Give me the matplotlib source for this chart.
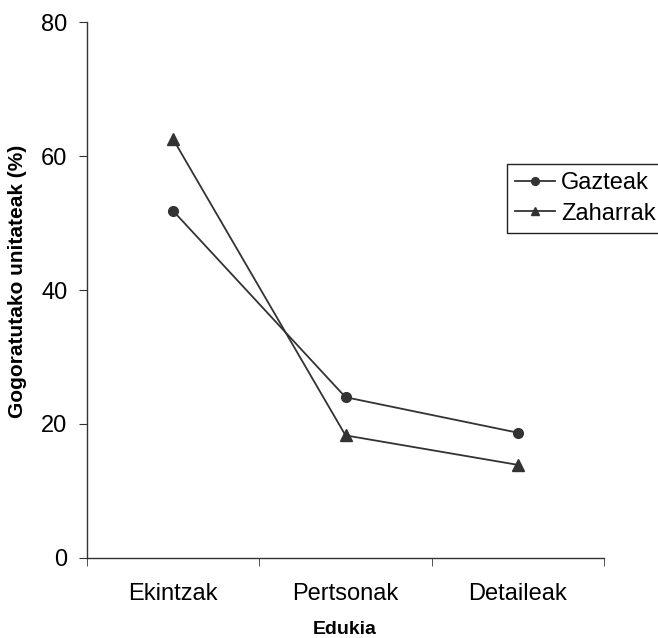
import matplotlib
matplotlib.use('Agg')
import matplotlib.pyplot as plt

plt.rcParams['font.family'] = ['Liberation Sans', 'DejaVu Sans']

# ── data ──
categories = ['Ekintzak', 'Pertsonak', 'Detaileak']
gazteak = [51.8, 24.0, 18.7]
zaharrak = [62.5, 18.3, 13.9]

LINE = '#333333'

fig = plt.figure(figsize=(6.58, 6.38), dpi=100)
ax = fig.add_axes([0.1322, 0.1254, 0.7858, 0.8401])

x = list(range(len(categories)))
ax.plot(x, gazteak, marker='o', color=LINE, linewidth=1.3, markersize=7,
        label='Gazteak', clip_on=False)
ax.plot(x, zaharrak, marker='^', color=LINE, linewidth=1.3, markersize=8,
        label='Zaharrak', clip_on=False)

ax.set_xlim(-0.5, len(categories) - 0.5)
ax.set_ylim(0, 80)
ax.set_yticks([0, 20, 40, 60, 80])
ax.set_xticks(x)
ax.set_xticklabels(categories)
ax.set_xticks([i - 0.5 for i in range(len(categories) + 1)], minor=True)
ax.tick_params(axis='x', which='major', length=0, pad=18, labelsize=17)
ax.tick_params(axis='x', which='minor', length=6, direction='out', color=LINE)
ax.tick_params(axis='y', length=6, direction='out', color=LINE, labelsize=17, pad=8)

for s in ['top', 'right']:
    ax.spines[s].set_visible(False)
for s in ['left', 'bottom']:
    ax.spines[s].set_color(LINE)
    ax.spines[s].set_linewidth(1.0)

# axis titles
fig.text(345 / 658, 1 - 630 / 638, 'Edukia', fontsize=14, fontweight='bold',
         ha='center', va='center')
fig.text(17.5 / 658, 1 - 281.5 / 638, 'Gogoratutako unitateak (%)', fontsize=15,
         fontweight='bold', rotation=90, ha='center', va='center')

leg = ax.legend(loc='upper left', bbox_to_anchor=(507 / 658, 1 - 164 / 638),
                bbox_transform=fig.transFigure, fontsize=17, frameon=True,
                fancybox=False, framealpha=1, edgecolor='#222222',
                handlelength=1.7, handletextpad=0.25, borderpad=0.35,
                labelspacing=0.35, borderaxespad=0, markerscale=0.8)
leg.get_frame().set_linewidth(1.0)

fig.savefig('out.png', dpi=100)
